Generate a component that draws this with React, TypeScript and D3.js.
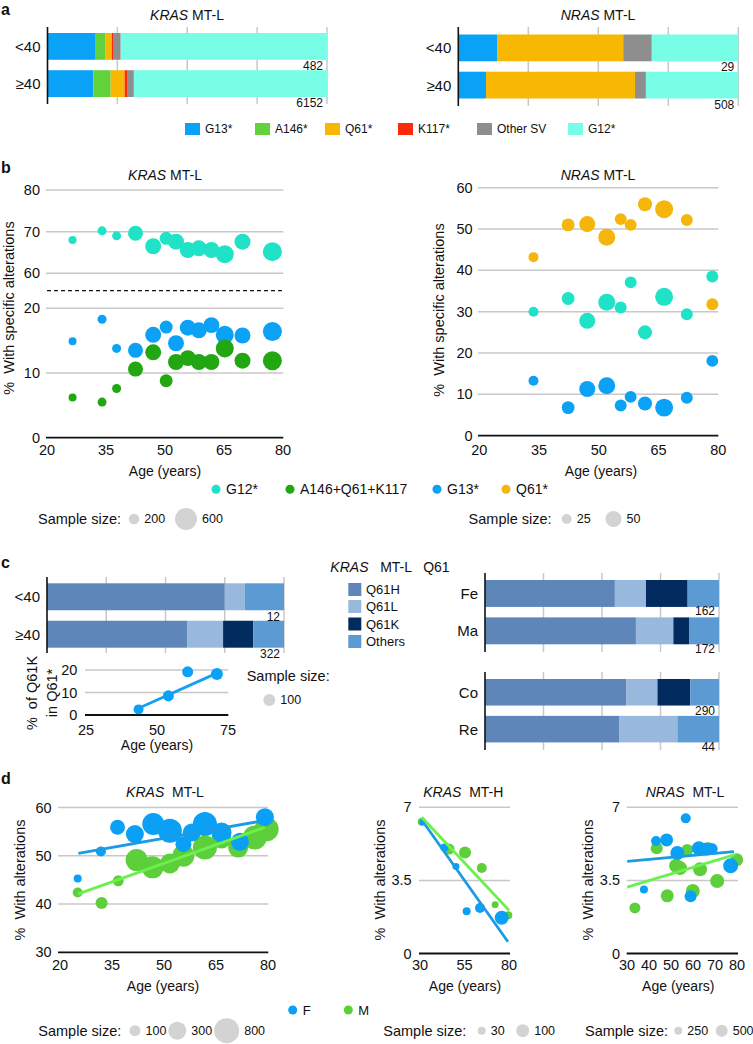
import React from 'react';
import * as d3 from 'd3';

const FONT = '"Liberation Sans", Arial, Helvetica, sans-serif';
const GRID = '#c8c8c8';
const INK = '#111';
const SIZE_GREY = '#d3d3d3';

// ---------- a: share of variants by age group (%)
const variantKeys = ['G13*', 'A146*', 'Q61*', 'K117*', 'Other SV', 'G12*'];
const variantColors = ['#0aa2f7', '#62d23c', '#f8b703', '#fb2a0a', '#8e8e8e', '#78fde6'];
const ageGroups = ['<40', '≥40'];
const krasShares = [
	[17.0, 3.6, 2.4, 0.7, 2.5, 73.8],
	[16.4, 6.2, 5.0, 1.1, 2.2, 69.1]
];
const krasCounts = [482, 6152];
const nrasShares = [
	[14.0, 0, 44.9, 0, 10.2, 30.9],
	[9.9, 0, 53.2, 0, 3.9, 33.0]
];
const nrasCounts = [29, 508];
const shareGrid = [0.25, 0.5, 0.75, 1];

// ---------- b: % with specific alterations by age
const bSeriesNames = ['G12*', 'A146+Q61+K117', 'G13*', 'Q61*'];
const bSeriesColors = ['#1fe2c6', '#22a612', '#0ba2f6', '#f5b50a'];
const krasBAges = [26.5, 34, 37.7, 42.5, 47, 50.3, 52.8, 55.8, 58.6, 61.8, 65.2, 69.7, 77.3];
const krasBG12 = [68.0, 70.2, 69.0, 69.6, 66.5, 68.4, 67.6, 65.6, 66.0, 65.6, 64.6, 67.6, 65.2];
const krasBG13 = [14.9, 18.3, 13.8, 13.5, 15.9, 17.1, 14.6, 17.0, 16.6, 17.4, 15.9, 15.8, 16.4];
const krasBOther = [6.2, 5.5, 7.6, 10.6, 13.2, 8.8, 11.7, 12.3, 11.7, 11.7, 13.8, 11.9, 11.9];
const krasBSizes = [121, 152, 152, 354, 389, 284, 389, 389, 389, 389, 460, 389, 495];
const nrasBAges = [33.6, 42.3, 47.1, 52, 55.5, 58, 61.6, 66.4, 72.1, 78.5];
const nrasBQ61 = [43.2, 51.0, 51.2, 48.0, 52.4, 51.0, 56.0, 54.8, 52.2, 31.8];
const nrasBG12 = [30.0, 33.2, 27.8, 32.3, 31.0, 37.1, 25.0, 33.6, 29.4, 38.5];
const nrasBG13 = [13.3, 6.8, 11.3, 12.1, 7.3, 9.4, 7.8, 6.8, 9.2, 18.1];
const nrasBSizes = [25, 37, 50, 54, 33, 33, 42, 58, 33, 33];

// ---------- c: KRAS MT-L Q61 subtypes
const q61Keys = ['Q61H', 'Q61L', 'Q61K', 'Others'];
const q61Colors = ['#5e86b8', '#98b9dd', '#022b5f', '#5b9ad3'];
const q61AgeShares = [
	[75.0, 8.5, 0, 16.5],
	[59.1, 15.2, 12.7, 13.0]
];
const q61AgeCounts = [12, 322];
const sexGroups = ['Fe', 'Ma'];
const q61SexShares = [
	[55.5, 13.3, 17.8, 13.4],
	[64.5, 16.0, 6.7, 12.8]
];
const q61SexCounts = [162, 172];
const siteGroups = ['Co', 'Re'];
const q61SiteShares = [
	[60.3, 13.4, 14.0, 12.3],
	[57.3, 24.9, 0, 17.8]
];
const q61SiteCounts = [290, 44];
const q61kAges = [43.5, 54, 60.8, 71.1];
const q61kValues = [2.5, 8.5, 19.2, 18.2];
const q61kSizes = [83, 92, 92, 100];
const q61kTrend = [[43.5, 3.0], [71.1, 18.6]];

// ---------- d: % with alterations by age and sex
const sexColors = { F: '#0aa0f5', M: '#5ccf3a' };
const trendColors = { F: '#1b9ae6', M: '#6cf04e' };
const krasLF = {
	ages: [25.1, 31.8, 36.6, 41.6, 46.9, 51.7, 55.6, 58.0, 61.8, 66.6, 71.9, 79.1],
	values: [45.3, 50.9, 55.9, 54.5, 56.6, 55.2, 52.4, 54.8, 56.6, 54.8, 52.9, 58.0],
	sizes: [40, 80, 214, 300, 586, 729, 243, 300, 729, 443, 300, 300]
};
const krasLM = {
	ages: [25.1, 32.0, 36.8, 42.1, 46.7, 51.7, 55.6, 61.8, 66.6, 71.4, 76.2, 79.6],
	values: [42.4, 40.2, 44.8, 49.1, 47.6, 48.4, 50.0, 51.7, 53.6, 51.7, 53.8, 55.5],
	sizes: [80, 129, 100, 586, 586, 443, 586, 729, 443, 443, 729, 729]
};
const krasLTrendF = [[25.3, 50.5], [78.2, 57.2]];
const krasLTrendM = [[25.3, 42.1], [79.1, 55.9]];
const krasHF = {
	ages: [31.3, 43.7, 50.2, 56.2, 63.7, 75.9],
	values: [6.27, 5.07, 4.17, 2.02, 2.18, 1.71],
	sizes: [15, 30, 22, 30, 58, 114]
};
const krasHM = {
	ages: [31.0, 46.3, 55.3, 64.7, 72.2, 79.6],
	values: [6.31, 5.0, 4.84, 4.09, 2.34, 1.83],
	sizes: [30, 72, 86, 58, 22, 30]
};
const krasHTrendF = [[31.0, 6.39], [79.4, 0.56]];
const krasHTrendM = [[31.0, 6.52], [80.0, 2.07]];
const nrasLF = {
	ages: [37.7, 43.2, 48.0, 52.9, 56.7, 58.9, 62.7, 66.2, 68.5, 77.1],
	values: [3.06, 5.39, 5.44, 4.81, 6.47, 2.74, 5.04, 5.0, 5.0, 4.2],
	sizes: [250, 375, 562, 625, 375, 500, 625, 562, 500, 688]
};
const nrasLM = {
	ages: [33.6, 43.5, 48.3, 52.3, 54.1, 57.4, 59.9, 63.2, 67.0, 71.0, 79.9],
	values: [2.18, 5.04, 2.76, 4.2, 4.09, 4.96, 2.99, 4.03, 5.04, 3.47, 4.49],
	sizes: [438, 500, 562, 625, 625, 500, 625, 625, 500, 625, 562]
};
const nrasLTrendF = [[30.1, 4.41], [78.6, 4.88]];
const nrasLTrendM = [[30.1, 3.18], [79.1, 4.73]];

// ---------- small pieces

const Title = ({ x, y, gene, rest }) => (
	<text x={x} y={y} textAnchor="middle" fontSize={14} style={{ whiteSpace: 'pre' }}>
		<tspan fontStyle="italic">{gene}</tspan>{rest}
	</text>
);

const YLabel = ({ x, y, children }) => (
	<text transform={`translate(${x},${y}) rotate(-90)`} textAnchor="middle"
		dominantBaseline="central" fontSize={14.5} style={{ whiteSpace: 'pre' }}>
		{children}
	</text>
);

const PanelLetter = ({ y, children }) => (
	<text x={1} y={y} fontSize={16} fontWeight="bold">{children}</text>
);

function StackedBars({ cats, shares, counts, keys, colors, xRange, bandRange, axisSpan, countDy = 10 }) {
	const x = d3.scaleLinear().domain([0, 1]).range(xRange);
	const y = d3.scaleBand().domain(cats).range(bandRange).paddingInner(0.28);
	const table = cats.map((c, i) => {
		const row: any = { cat: c };
		keys.forEach((k, j) => { row[k] = shares[i][j]; });
		return row;
	});
	const series = d3.stack().keys(keys).offset(d3.stackOffsetExpand)(table);
	return (
		<g>
			{shareGrid.map(t => (
				<line key={t} x1={x(t)} x2={x(t)} y1={axisSpan[0]} y2={axisSpan[1]} stroke={GRID} strokeWidth={1.5} />
			))}
			{series.map((s, j) => s.map((d, i) => (
				<rect key={`${j}_${i}`} x={x(d[0])} width={Math.max(0, x(d[1]) - x(d[0]))}
					y={y(cats[i])} height={y.bandwidth()} fill={colors[j]} />
			)))}
			<line x1={x(0)} x2={x(0)} y1={axisSpan[0]} y2={axisSpan[1]} stroke={INK} strokeWidth={1.6} />
			{cats.map(c => (
				<text key={c} x={x(0) - 7} y={y(c) + y.bandwidth() / 2} textAnchor="end"
					dominantBaseline="central" fontSize={15}>{c}</text>
			))}
			{counts.map((n, i) => (
				<text key={`n${i}`} x={x(1) - 4} y={y(cats[i]) + y.bandwidth() + countDy}
					textAnchor="end" fontSize={12}>{n}</text>
			))}
		</g>
	);
}

function YGrid({ y, ticks, x0, x1, labelX, fmt = (t) => String(t) }) {
	return (
		<g>
			{ticks.map((t, i) => (
				<g key={t}>
					<line x1={x0} x2={x1} y1={y(t)} y2={y(t)} stroke={i === 0 ? INK : GRID} strokeWidth={i === 0 ? 1.8 : 1.5} />
					<text x={labelX} y={y(t)} textAnchor="end" dominantBaseline="central" fontSize={14.5}>{fmt(t)}</text>
				</g>
			))}
		</g>
	);
}

const XTicks = ({ x, ticks, y }) => (
	<g>
		{ticks.map(t => <text key={t} x={x(t)} y={y} textAnchor="middle" fontSize={14.5}>{t}</text>)}
	</g>
);

const Bubbles = ({ ages, values, sizes, x, y, r, color }) => (
	<g>
		{ages.map((a, i) => <circle key={i} cx={x(a)} cy={y(values[i])} r={r(sizes[i])} fill={color} />)}
	</g>
);

function Trend({ pts, x, y, color }) {
	const line = d3.line<number[]>().x(d => x(d[0])).y(d => y(d[1]));
	return <path d={line(pts)} fill="none" stroke={color} strokeWidth={2.8} />;
}

function SizeLegend({ x, y, values, centers, r, circleY = y }) {
	return (
		<g>
			<text x={x} y={y} dominantBaseline="central" fontSize={14.5}>Sample size:</text>
			{values.map((v, i) => (
				<g key={v}>
					<circle cx={centers[i]} cy={circleY} r={r(v)} fill={SIZE_GREY} />
					<text x={centers[i] + r(v) + 5} y={circleY} dominantBaseline="central" fontSize={12.5}>{v}</text>
				</g>
			))}
		</g>
	);
}

// ---------- panels

function PanelA() {
	const legendX = [185, 255, 325, 398, 477, 568];
	return (
		<g>
			<PanelLetter y={15}>a</PanelLetter>
			<Title x={187} y={20} gene="KRAS" rest=" MT-L" />
			<StackedBars cats={ageGroups} shares={krasShares} counts={krasCounts} keys={variantKeys}
				colors={variantColors} xRange={[47.5, 327]} bandRange={[33, 97]} axisSpan={[27, 104]} />
			<Title x={598} y={20} gene="NRAS" rest=" MT-L" />
			<StackedBars cats={ageGroups} shares={nrasShares} counts={nrasCounts} keys={variantKeys}
				colors={variantColors} xRange={[458.3, 738.3]} bandRange={[34.5, 98.5]} axisSpan={[27, 106]} />
			{variantKeys.map((k, i) => (
				<g key={k} transform={`translate(${legendX[i]},129)`}>
					<rect x={0} y={-6} width={15} height={12} fill={variantColors[i]} />
					<text x={20} y={0} dominantBaseline="central" fontSize={12}>{k}</text>
				</g>
			))}
		</g>
	);
}

function PanelB() {
	const ageTicks = [20, 35, 50, 65, 80];
	const xL = d3.scaleLinear().domain([20, 80]).range([47, 283]);
	const yUp = d3.scaleLinear().domain([60, 80]).range([273.3, 190]);
	const yLo = d3.scaleLinear().domain([0, 20]).range([437.7, 308.3]);
	const yL = (v) => (v >= 40 ? yUp(v) : yLo(v));
	const rL = d3.scaleLinear().domain([0, 200, 600]).range([2, 5.3, 11]);

	const xR = d3.scaleLinear().domain([20, 80]).range([479.3, 718.3]);
	const yR = d3.scaleLinear().domain([0, 60]).range([435.7, 187.7]);
	const rR = d3.scaleLinear().domain([0, 25, 50]).range([2, 5, 8]);

	const legendDots = [216, 290, 437, 506];

	return (
		<g>
			<PanelLetter y={173}>b</PanelLetter>
			<Title x={165} y={180} gene="KRAS" rest=" MT-L" />
			<YGrid y={yL} ticks={[0, 10, 20, 60, 70, 80]} x0={46} x1={283.3} labelX={40} />
			<line x1={47} x2={283.3} y1={290.7} y2={290.7} stroke={INK} strokeWidth={1.3} strokeDasharray="4,3" />
			<Bubbles ages={krasBAges} values={krasBG12} sizes={krasBSizes} x={xL} y={yL} r={rL} color={bSeriesColors[0]} />
			<Bubbles ages={krasBAges} values={krasBG13} sizes={krasBSizes} x={xL} y={yL} r={rL} color={bSeriesColors[2]} />
			<Bubbles ages={krasBAges} values={krasBOther} sizes={krasBSizes} x={xL} y={yL} r={rL} color={bSeriesColors[1]} />
			<XTicks x={xL} ticks={ageTicks} y={455} />
			<text x={165} y={476} textAnchor="middle" fontSize={14}>Age (years)</text>
			<YLabel x={9} y={308}>{'%  With specific alterations'}</YLabel>

			<Title x={598} y={180} gene="NRAS" rest=" MT-L" />
			<YGrid y={yR} ticks={[0, 10, 20, 30, 40, 50, 60]} x0={478} x1={718.3} labelX={472.7} />
			<Bubbles ages={nrasBAges} values={nrasBQ61} sizes={nrasBSizes} x={xR} y={yR} r={rR} color={bSeriesColors[3]} />
			<Bubbles ages={nrasBAges} values={nrasBG12} sizes={nrasBSizes} x={xR} y={yR} r={rR} color={bSeriesColors[0]} />
			<Bubbles ages={nrasBAges} values={nrasBG13} sizes={nrasBSizes} x={xR} y={yR} r={rR} color={bSeriesColors[2]} />
			<XTicks x={xR} ticks={ageTicks} y={455} />
			<text x={601} y={476} textAnchor="middle" fontSize={14}>Age (years)</text>
			<YLabel x={439} y={310}>{'%  With specific alterations'}</YLabel>

			{bSeriesNames.map((n, i) => (
				<g key={n}>
					<circle cx={legendDots[i]} cy={489.3} r={4.5} fill={bSeriesColors[i]} />
					<text x={legendDots[i] + 10} y={489.3} dominantBaseline="central" fontSize={14}>{n}</text>
				</g>
			))}
			<SizeLegend x={38} y={519} values={[200, 600]} centers={[134, 186]} r={rL} />
			<SizeLegend x={468.6} y={519} values={[25, 50]} centers={[566.7, 613.5]} r={rR} />
		</g>
	);
}

function PanelC() {
	const x = d3.scaleLinear().domain([25, 75]).range([86, 228]);
	const y = d3.scaleLinear().domain([0, 20]).range([715, 670]);
	const r = d3.scaleLinear().domain([0, 100]).range([0, 6]);
	const rows = [583, 600, 617.5, 635];
	return (
		<g>
			<PanelLetter y={568}>c</PanelLetter>
			<text x={390} y={572} textAnchor="middle" fontSize={14} style={{ whiteSpace: 'pre' }}>
				<tspan fontStyle="italic">KRAS</tspan>{'   MT-L   Q61'}
			</text>
			<StackedBars cats={ageGroups} shares={q61AgeShares} counts={q61AgeCounts} keys={q61Keys}
				colors={q61Colors} xRange={[47, 284]} bandRange={[583.3, 647.7]} axisSpan={[577, 653]} countDy={10.5} />
			<StackedBars cats={sexGroups} shares={q61SexShares} counts={q61SexCounts} keys={q61Keys}
				colors={q61Colors} xRange={[485, 719]} bandRange={[580, 644.3]} axisSpan={[573, 652]} countDy={8.5} />
			<StackedBars cats={siteGroups} shares={q61SiteShares} counts={q61SiteCounts} keys={q61Keys}
				colors={q61Colors} xRange={[485, 719]} bandRange={[679, 742.4]} axisSpan={[672, 750]} countDy={9} />
			{q61Keys.map((k, i) => (
				<g key={k}>
					<rect x={348.3} y={rows[i]} width={13} height={13} fill={q61Colors[i]} />
					<text x={366} y={rows[i] + 6.5} dominantBaseline="central" fontSize={13}>{k}</text>
				</g>
			))}

			<YGrid y={y} ticks={[0, 10, 20]} x0={85} x1={228.3} labelX={77.3} />
			<Trend pts={q61kTrend} x={x} y={y} color="#16a0f2" />
			<Bubbles ages={q61kAges} values={q61kValues} sizes={q61kSizes} x={x} y={y} r={r} color="#0aa2f7" />
			<XTicks x={x} ticks={[25, 50, 75]} y={735} />
			<text x={157} y={750} textAnchor="middle" fontSize={14}>Age (years)</text>
			<YLabel x={32} y={693}>{'%  of Q61K'}</YLabel>
			<YLabel x={52} y={693}>{'in Q61*'}</YLabel>
			<text x={246.7} y={675.7} dominantBaseline="central" fontSize={14.5}>Sample size:</text>
			<circle cx={269.3} cy={700} r={r(100)} fill={SIZE_GREY} />
			<text x={269.3 + r(100) + 5} y={700} dominantBaseline="central" fontSize={12.5}>100</text>
		</g>
	);
}

function SexScatter({ x, y, r, f, m, trendF, trendM }) {
	return (
		<g>
			<Bubbles {...m} x={x} y={y} r={r} color={sexColors.M} />
			<Bubbles {...f} x={x} y={y} r={r} color={sexColors.F} />
			<Trend pts={trendF} x={x} y={y} color={trendColors.F} />
			<Trend pts={trendM} x={x} y={y} color={trendColors.M} />
		</g>
	);
}

function PanelD() {
	const xA = d3.scaleLinear().domain([20, 80]).range([60, 268]);
	const yA = d3.scaleLinear().domain([30, 60]).range([952.3, 807.5]);
	const rA = d3.scaleLinear().domain([0, 100, 300, 800]).range([3, 5.5, 9, 12.5]);

	const xB = d3.scaleLinear().domain([30, 80]).range([420, 509]);
	const yB = d3.scaleLinear().domain([0, 7]).range([953.5, 807.3]);
	const rB = d3.scaleLinear().domain([0, 30, 100]).range([2, 4, 6.5]);

	const xC = d3.scaleLinear().domain([30, 80]).range([627, 737]);
	const yC = d3.scaleLinear().domain([0, 7]).range([953.5, 807.3]);
	const rC = d3.scaleLinear().domain([0, 250, 500]).range([2, 4, 6]);

	const fmtB = d3.format('~g');

	return (
		<g>
			<PanelLetter y={784}>d</PanelLetter>

			<Title x={165} y={797} gene="KRAS" rest="  MT-L" />
			<YGrid y={yA} ticks={[30, 40, 50, 60]} x0={58} x1={268.3} labelX={51.7} />
			<SexScatter x={xA} y={yA} r={rA} f={krasLF} m={krasLM} trendF={krasLTrendF} trendM={krasLTrendM} />
			<XTicks x={xA} ticks={[20, 35, 50, 65, 80]} y={970} />
			<text x={163} y={991} textAnchor="middle" fontSize={14}>Age (years)</text>
			<YLabel x={20} y={880}>{'%  With alterations'}</YLabel>

			<Title x={463.3} y={797} gene="KRAS" rest="  MT-H" />
			<YGrid y={yB} ticks={[0, 3.5, 7]} x0={419} x1={510} labelX={411.7} fmt={fmtB} />
			<SexScatter x={xB} y={yB} r={rB} f={krasHF} m={krasHM} trendF={krasHTrendF} trendM={krasHTrendM} />
			<XTicks x={xB} ticks={[30, 55, 80]} y={970} />
			<text x={465} y={991} textAnchor="middle" fontSize={14}>Age (years)</text>
			<YLabel x={380} y={880}>{'%  With alterations'}</YLabel>

			<Title x={685} y={797} gene="NRAS" rest="  MT-L" />
			<YGrid y={yC} ticks={[0, 3.5, 7]} x0={626.7} x1={738} labelX={620} fmt={fmtB} />
			<SexScatter x={xC} y={yC} r={rC} f={nrasLF} m={nrasLM} trendF={nrasLTrendF} trendM={nrasLTrendM} />
			<XTicks x={xC} ticks={[30, 40, 50, 60, 70, 80]} y={970} />
			<text x={678.3} y={991} textAnchor="middle" fontSize={14}>Age (years)</text>
			<YLabel x={588} y={880}>{'%  With alterations'}</YLabel>

			{['F', 'M'].map((s, i) => (
				<g key={s}>
					<circle cx={[292.7, 348.3][i]} cy={1010} r={4.5} fill={sexColors[s]} />
					<text x={[292.7, 348.3][i] + 10} y={1010} dominantBaseline="central" fontSize={13}>{s}</text>
				</g>
			))}
			<SizeLegend x={38.3} y={1030.7} values={[100, 300, 800]} centers={[135, 177.3, 226.7]} r={rA} />
			<SizeLegend x={383.3} y={1030.7} values={[30, 100]} centers={[481.7, 522.7]} r={rB} />
			<SizeLegend x={585} y={1030.7} values={[250, 500]} centers={[678.3, 721.7]} r={rC} />
		</g>
	);
}

export default function App() {
	return (
		<svg width={753} height={1044}
			style={{ position: 'absolute', left: 0, top: 0, fontFamily: FONT, background: '#fff' }}
			fill={INK}>
			<rect width={753} height={1044} fill="#fff" />
			<PanelA />
			<PanelB />
			<PanelC />
			<PanelD />
		</svg>
	);
}
